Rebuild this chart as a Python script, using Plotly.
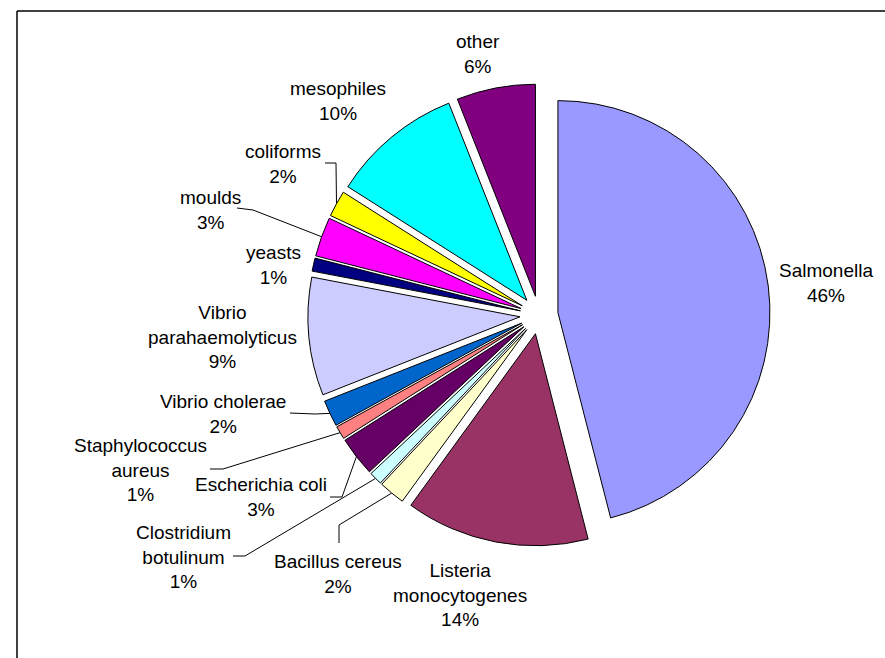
import math
import plotly.graph_objects as go

# ---- data ----
categories = ["Salmonella", "Listeria monocytogenes", "Bacillus cereus", "Clostridium botulinum",
              "Escherichia coli", "Staphylococcus aureus", "Vibrio cholerae", "Vibrio parahaemolyticus",
              "yeasts", "moulds", "coliforms", "mesophiles", "other"]
values = [46, 14, 2, 1, 3, 1, 2, 9, 1, 3, 2, 10, 6]
label_text = ["Salmonella", "Listeria<br>monocytogenes", "Bacillus cereus", "Clostridium<br>botulinum",
              "Escherichia coli", "Staphylococcus<br>aureus", "Vibrio cholerae", "Vibrio<br>parahaemolyticus",
              "yeasts", "moulds", "coliforms", "mesophiles", "other"]
colors = ["#9999FF", "#993366", "#FFFFCC", "#CCFFFF", "#660066", "#FF8080", "#0066CC",
          "#CCCCFF", "#000080", "#FF00FF", "#FFFF00", "#00FFFF", "#800080"]

# ---- layout geometry (pixels) ----
W, H = 885, 658
CX, CY, R, PULL = 539, 315, 212, 0.09
half = R * (1 + PULL)

def px(x):
    return x / W

def py(y):
    return 1 - y / H

# label block centres (pixels)
label_pos = {
    "Salmonella": (826, 283),
    "Listeria monocytogenes": (460, 595),
    "Bacillus cereus": (338, 574),
    "Clostridium botulinum": (183, 557),
    "Escherichia coli": (261, 497),
    "Staphylococcus aureus": (140, 470),
    "Vibrio cholerae": (223, 414),
    "Vibrio parahaemolyticus": (222, 337),
    "yeasts": (273, 265),
    "moulds": (210, 210),
    "coliforms": (283, 164),
    "mesophiles": (338, 101),
    "other": (478, 54),
}
# leader line: label-side start and elbow (pixels); end point computed from slice angle
leaders = {
    "coliforms": [(325, 163), (336, 163)],
    "moulds": [(237, 208), (253, 210)],
    "Vibrio cholerae": [(290, 413), (315, 414)],
    "Staphylococcus aureus": [(210, 469), (223, 469)],
    "Escherichia coli": [(330, 497), (342, 497)],
    "Clostridium botulinum": [(233, 556), (245, 556)],
    "Bacillus cereus": [(339, 543), (339, 525)],
}

total = sum(values)
fig = go.Figure(go.Pie(
    labels=categories,
    values=values,
    sort=False,
    direction="clockwise",
    rotation=0,
    pull=[PULL] * len(values),
    marker=dict(colors=colors, line=dict(color="black", width=1)),
    textinfo="none",
    hoverinfo="label+percent",
    showlegend=False,
    domain=dict(x=[px(CX - half), px(CX + half)], y=[py(CY + half), py(CY - half)]),
))

annotations = []
for name, txt, v in zip(categories, label_text, values):
    x, y = label_pos[name]
    annotations.append(dict(
        x=px(x), y=py(y), xref="paper", yref="paper",
        text=f"{txt}<br>{round(100 * v / total)}%",
        showarrow=False, xanchor="center", yanchor="middle",
        font=dict(family="Liberation Sans, Arial, sans-serif", size=19, color="black"),
    ))

shapes = []
cum = 0
for name, v in zip(categories, values):
    mid = 2 * math.pi * (cum + v / 2) / total
    cum += v
    if name in leaders:
        (x0, y0), (x1, y1) = leaders[name]
        ex = CX + half * math.sin(mid)
        ey = CY - half * math.cos(mid)
        path = f"M {px(x0)},{py(y0)} L {px(x1)},{py(y1)} L {px(ex)},{py(ey)}"
        shapes.append(dict(type="path", path=path, xref="paper", yref="paper",
                           line=dict(color="black", width=1), layer="below"))

# outer chart border (only top and left edges are inside the picture)
shapes.append(dict(type="line", xref="paper", yref="paper",
                   x0=px(17), x1=1, y0=py(11), y1=py(11),
                   line=dict(color="black", width=1.5), layer="below"))
shapes.append(dict(type="line", xref="paper", yref="paper",
                   x0=px(17), x1=px(17), y0=0, y1=py(11),
                   line=dict(color="black", width=1.5), layer="below"))

fig.update_layout(
    width=W, height=H, autosize=False,
    margin=dict(l=0, r=0, t=0, b=0),
    paper_bgcolor="white", plot_bgcolor="white",
    annotations=annotations, shapes=shapes,
)
fig.write_html(
    "out.html",
    config={"displayModeBar": False},
    post_script=(
        "document.documentElement.style.margin='0';"
        "document.documentElement.style.overflow='hidden';"
        "document.body.style.margin='0';"
        "document.body.style.overflow='hidden';"
    ),
)
